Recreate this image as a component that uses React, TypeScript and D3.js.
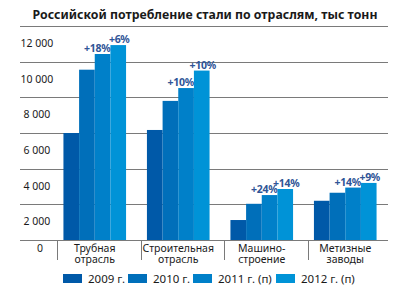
import React from "react";
import * as d3 from "d3";

const categories = ["Трубная\nотрасль", "Строительная\nотрасль", "Машино-\nстроение", "Метизные\nзаводы"];
const series = ["2009 г.", "2010 г.", "2011 г. (п)", "2012 г. (п)"];
const v2009 = [6000, 6170, 1120, 2200];
const v2010 = [9550, 7800, 2030, 2650];
const v2011 = [10430, 8520, 2520, 2940];
const v2012 = [10930, 9500, 2860, 3200];
const growth2011 = ["+18%", "+10%", "+24%", "+14%"];
const growth2012 = ["+6%", "+10%", "+14%", "+9%"];
const yTicks = [2000, 4000, 6000, 8000, 10000, 12000];
const yTickLabels = ["2 000", "4 000", "6 000", "8 000", "10 000", "12 000"];
const colors = ["#0059a8", "#006fba", "#0080c9", "#0093d7"];

const W = 397;
const H = 292;
const FONT = "'Noto Sans', sans-serif";

export default function App() {
  const values = [v2009, v2010, v2011, v2012];
  const y = d3.scaleLinear().domain([0, 12000]).range([240, 26]);
  const x0 = d3.scaleBand<string>().domain(categories).range([53, 387]).paddingInner(0.25).paddingOuter(0.125);
  const x1 = d3.scaleBand<string>().domain(series).range([0, x0.bandwidth()]);
  const legendX = [63, 128, 193, 276];

  return (
    <svg width={W} height={H} style={{ position: "absolute", left: 0, top: 0, background: "#fff" }} fontFamily={FONT}>
      <text x={205} y={19} textAnchor="middle" fontSize={12.3} fontWeight="bold" fill="#1a1a1a">
        Российской потребление стали по отраслям, тыс тонн
      </text>
      {yTicks.map((t) => (
        <line key={t} x1={20} x2={388} y1={Math.round(y(t)) + 0.5} y2={Math.round(y(t)) + 0.5} stroke="#7a7a7a" strokeWidth={1} />
      ))}
      {yTicks.map((t, i) => (
        <text key={"l" + t} x={37} y={y(t) + 21} textAnchor="middle" fontSize={10.5} fill="#1a1a1a">
          {yTickLabels[i]}
        </text>
      ))}
      <text x={40} y={252} textAnchor="middle" fontSize={10.5} fill="#1a1a1a">0</text>
      {categories.map((c, ci) => (
        <g key={c}>
          {series.map((s, si) => {
            const v = values[si][ci];
            const bx = (x0(c) as number) + (x1(s) as number);
            return <rect key={s} x={bx} y={y(v)} width={x1.bandwidth()} height={y(0) - y(v)} fill={colors[si]} />;
          })}
        </g>
      ))}
      <line x1={20} x2={388} y1={240.5} y2={240.5} stroke="#7a7a7a" strokeWidth={1} />
      {categories.map((c) => (
        <line key={"t" + c} x1={Math.round((x0(c) as number) - 6) + 0.5} x2={Math.round((x0(c) as number) - 6) + 0.5} y1={240} y2={260} stroke="#7a7a7a" strokeWidth={1} />
      ))}
      {categories.map((c) => {
        const cx = (x0(c) as number) + x0.bandwidth() / 2;
        const lines = c.split("\n");
        return lines.map((ln, li) => (
          <text key={"c" + c + li} x={cx} y={251.5 + li * 11} textAnchor="middle" fontSize={10.5} fill="#1a1a1a">
            {ln}
          </text>
        ));
      })}
      {categories.map((c, ci) => {
        const b2 = (x0(c) as number) + (x1(series[2]) as number);
        const b3 = (x0(c) as number) + (x1(series[3]) as number);
        return (
          <g key={"g" + c} fontWeight="bold" fontSize={10.5} fill="#2f5597">
            <text x={b2 + x1.bandwidth()} y={y(v2011[ci]) - 2} textAnchor="end" letterSpacing={-0.3}>{growth2011[ci]}</text>
            <text x={b3 + x1.bandwidth() / 2 + 1} y={y(v2012[ci]) - 2} textAnchor="middle" letterSpacing={-0.3}>{growth2012[ci]}</text>
          </g>
        );
      })}
      {series.map((s, si) => (
        <g key={"lg" + s}>
          <rect x={legendX[si]} y={274} width={19} height={9} fill={colors[si]} />
          <text x={legendX[si] + 25} y={282.5} fontSize={11.5} fill="#1a1a1a">{s}</text>
        </g>
      ))}
    </svg>
  );
}
